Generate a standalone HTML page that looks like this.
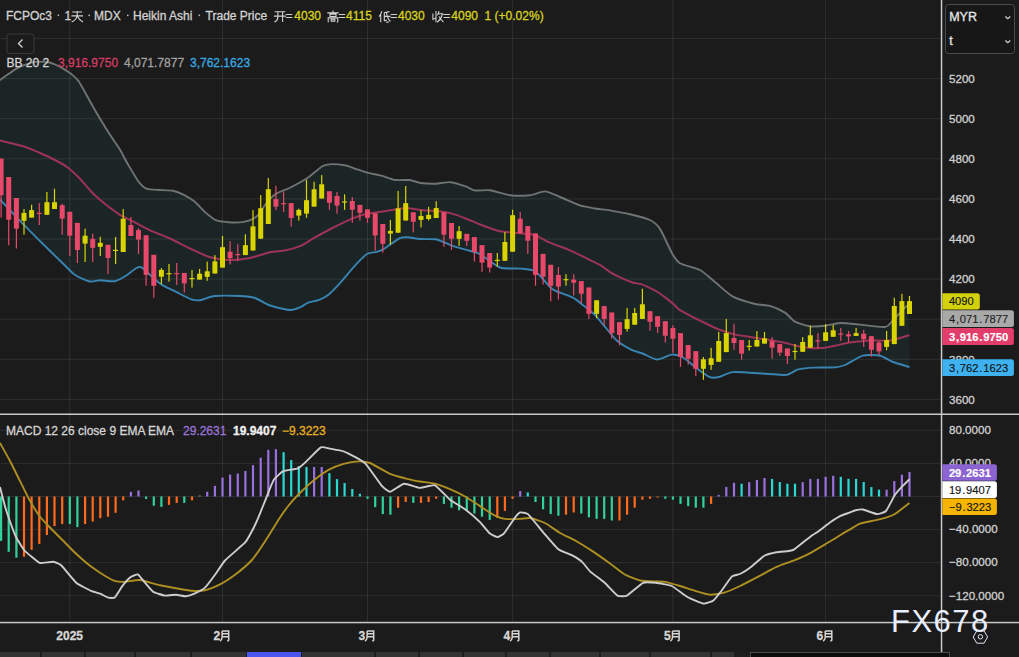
<!DOCTYPE html><html><head><meta charset="utf-8"><style>
html,body{margin:0;padding:0;background:#1b1b1b;width:1019px;height:657px;overflow:hidden}
svg{display:block}
text{font-family:"Liberation Sans",sans-serif}
</style></head><body>
<svg width="1019" height="657" viewBox="0 0 1019 657">
<rect width="1019" height="657" fill="#1b1b1b"/>
<path d="M0.0,80.2 C0.9,79.5 6.1,75.6 8.0,74.3 C9.9,73.0 14.2,69.8 16.0,68.8 C17.8,67.8 21.7,66.0 23.5,65.3 C25.3,64.6 29.6,63.0 31.4,62.6 C33.2,62.2 37.2,61.6 39.2,61.6 C41.2,61.6 46.9,61.9 48.7,62.2 C50.5,62.5 53.4,63.8 55.0,64.5 C56.6,65.2 61.0,67.4 62.8,68.4 C64.6,69.5 68.8,72.0 70.6,73.5 C72.4,75.0 76.5,78.2 78.5,81.0 C80.5,83.8 85.7,93.5 88.0,97.6 C90.3,101.7 96.1,112.1 98.6,116.3 C101.1,120.5 106.7,129.7 109.2,133.6 C111.7,137.5 117.7,145.9 119.9,149.5 C122.1,153.1 125.7,160.5 127.9,164.2 C130.1,167.9 136.3,178.6 138.5,181.5 C140.7,184.4 144.0,187.7 146.5,188.7 C149.0,189.7 156.7,189.8 159.8,190.0 C162.9,190.2 170.4,190.2 173.2,190.8 C176.0,191.4 181.3,193.6 183.8,194.8 C186.3,196.0 192.0,199.5 194.5,201.5 C197.0,203.5 202.6,209.9 205.1,212.1 C207.6,214.3 213.3,218.9 215.8,220.1 C218.3,221.3 223.6,221.7 226.4,222.0 C229.2,222.3 237.4,222.6 240.0,222.4 C242.6,222.2 246.7,221.5 248.8,220.7 C250.9,219.9 255.6,217.5 257.7,215.4 C259.8,213.3 264.4,205.5 266.5,203.0 C268.6,200.5 272.6,195.9 275.3,194.2 C278.0,192.4 285.8,189.9 289.5,188.0 C293.2,186.1 304.0,180.3 307.1,178.3 C310.2,176.3 314.1,172.6 316.0,171.2 C317.9,169.8 321.1,166.7 323.0,165.9 C324.9,165.1 329.2,164.1 331.9,164.1 C334.6,164.1 343.3,165.0 346.0,165.5 C348.7,166.0 352.3,167.8 354.8,168.6 C357.3,169.4 364.1,171.8 367.2,172.6 C370.3,173.4 378.0,174.7 381.3,175.6 C384.6,176.5 392.2,179.5 395.5,180.0 C398.8,180.5 406.7,179.7 409.6,180.0 C412.5,180.3 417.6,182.6 420.7,183.0 C423.8,183.4 432.4,183.8 435.9,183.7 C439.4,183.6 447.5,181.8 451.0,182.2 C454.5,182.5 463.5,185.7 466.3,186.7 C469.1,187.7 472.2,190.1 475.0,190.5 C477.8,190.9 485.9,189.7 490.0,190.2 C494.1,190.7 505.3,194.6 510.0,195.2 C514.7,195.8 525.9,195.6 530.0,195.2 C534.1,194.8 541.5,191.2 545.0,191.4 C548.5,191.6 555.9,195.4 560.0,197.0 C564.1,198.6 575.9,204.1 580.0,205.4 C584.1,206.7 591.5,207.9 595.0,208.5 C598.5,209.1 605.9,209.7 610.0,210.4 C614.1,211.1 625.3,213.1 630.0,214.2 C634.7,215.3 646.5,218.3 650.0,220.0 C653.5,221.7 657.4,225.0 660.0,228.9 C662.6,232.8 669.7,249.2 672.0,253.2 C674.3,257.2 676.7,261.3 680.0,263.3 C683.3,265.3 695.9,267.8 700.0,270.0 C704.1,272.2 711.1,278.9 715.0,282.0 C718.9,285.1 728.3,294.1 733.0,296.7 C737.7,299.3 750.7,302.9 755.0,304.0 C759.3,305.1 766.5,304.9 770.0,305.9 C773.5,306.9 782.1,310.8 785.0,312.6 C787.9,314.4 792.1,320.1 795.0,321.7 C797.9,323.3 806.5,325.8 810.0,326.3 C813.5,326.8 821.5,326.2 825.0,325.8 C828.5,325.4 835.9,323.1 840.0,323.0 C844.1,322.9 854.8,324.1 860.0,324.6 C865.2,325.1 881.1,327.5 885.0,327.0 C888.9,326.5 891.0,322.2 893.0,320.3 C895.0,318.4 900.1,312.6 902.0,310.6 C903.9,308.6 908.6,304.3 909.5,303.5 L909.5,367.0 C907.6,366.4 896.4,363.3 893.0,362.0 C889.6,360.7 883.5,356.4 880.0,355.7 C876.5,355.0 867.1,354.5 863.0,355.6 C858.9,356.7 848.3,363.6 845.0,365.0 C841.7,366.4 838.6,367.1 835.0,367.4 C831.4,367.7 818.5,367.4 814.2,367.6 C809.9,367.8 801.6,368.5 798.3,369.4 C795.0,370.3 790.0,374.4 786.2,374.9 C782.4,375.4 771.7,374.0 765.5,373.7 C759.3,373.4 738.3,371.7 733.0,372.1 C727.7,372.5 722.7,376.2 720.0,376.8 C717.3,377.4 712.9,378.3 710.0,377.2 C707.1,376.1 698.1,369.3 695.0,367.0 C691.9,364.7 685.7,358.9 683.0,357.5 C680.3,356.1 675.0,354.4 672.0,354.6 C669.0,354.8 660.4,359.6 657.0,359.5 C653.6,359.4 645.6,354.6 642.6,353.5 C639.6,352.4 634.6,351.4 631.6,349.9 C628.6,348.4 620.0,343.4 617.0,340.8 C614.0,338.2 608.6,331.0 606.0,328.0 C603.4,325.0 597.6,317.8 595.1,315.2 C592.6,312.6 586.8,308.1 584.2,306.1 C581.6,304.1 576.6,299.7 573.2,297.9 C569.8,296.1 557.7,291.9 555.0,290.6 C552.3,289.3 552.3,289.3 550.0,287.0 C547.7,284.7 538.5,273.4 535.0,271.3 C531.5,269.2 524.1,269.0 520.0,268.6 C515.9,268.2 504.7,269.2 500.0,267.5 C495.3,265.8 483.9,256.3 480.0,254.2 C476.1,252.1 469.7,250.9 466.3,249.9 C462.9,248.9 453.8,246.2 451.1,245.3 C448.4,244.4 445.3,242.7 443.5,242.0 C441.7,241.3 438.7,239.7 436.0,239.3 C433.3,239.0 424.1,239.2 420.7,239.0 C417.3,238.8 409.4,237.3 407.0,237.2 C404.6,237.1 401.9,237.4 400.0,238.2 C398.1,239.0 392.5,243.0 390.4,244.4 C388.3,245.8 383.8,249.0 382.2,249.9 C380.6,250.8 378.5,251.4 376.7,251.9 C374.9,252.4 369.3,252.7 367.1,254.0 C364.9,255.3 359.7,260.6 357.5,262.9 C355.3,265.2 350.1,271.2 347.9,273.8 C345.7,276.4 340.6,282.4 338.4,284.8 C336.2,287.2 331.0,292.6 328.8,294.4 C326.6,296.2 321.6,298.9 319.2,299.9 C316.8,300.9 310.4,301.7 308.2,302.6 C306.0,303.5 302.1,306.5 300.0,307.4 C297.9,308.3 293.5,310.2 290.0,310.0 C286.5,309.8 274.1,306.9 270.0,305.5 C265.9,304.1 258.5,299.1 255.0,298.0 C251.5,296.9 244.7,296.2 240.0,296.0 C235.3,295.8 219.7,295.5 215.0,296.0 C210.3,296.5 202.8,299.8 200.0,300.2 C197.2,300.6 193.9,300.2 191.2,299.3 C188.5,298.4 180.0,293.9 176.6,292.2 C173.2,290.5 164.8,286.6 162.0,284.9 C159.2,283.2 155.3,279.6 153.0,277.6 C150.7,275.6 143.9,268.7 142.0,267.6 C140.1,266.5 138.4,267.0 136.5,268.0 C134.6,269.0 128.0,274.5 125.5,276.0 C123.0,277.5 118.0,280.7 115.0,281.2 C112.0,281.7 102.9,280.3 100.0,280.3 C97.1,280.3 92.9,282.1 90.0,281.5 C87.1,280.9 78.0,277.0 75.0,275.0 C72.0,273.0 67.7,268.1 64.0,264.5 C60.3,260.9 48.0,249.0 43.0,244.0 C38.0,239.0 26.0,227.0 21.0,221.8 C16.0,216.6 2.4,202.1 0.0,199.5 Z" fill="#1d2727" fill-opacity="0.9"/>
<rect x="891" y="289" width="18" height="79" fill="#22302f" fill-opacity="0.12"/>
<rect x="0" y="38.0" width="941" height="1" fill="rgba(255,255,255,0.085)"/>
<rect x="0" y="78.1" width="941" height="1" fill="rgba(255,255,255,0.085)"/>
<rect x="0" y="118.2" width="941" height="1" fill="rgba(255,255,255,0.085)"/>
<rect x="0" y="158.3" width="941" height="1" fill="rgba(255,255,255,0.085)"/>
<rect x="0" y="198.4" width="941" height="1" fill="rgba(255,255,255,0.085)"/>
<rect x="0" y="238.5" width="941" height="1" fill="rgba(255,255,255,0.085)"/>
<rect x="0" y="278.6" width="941" height="1" fill="rgba(255,255,255,0.085)"/>
<rect x="0" y="318.7" width="941" height="1" fill="rgba(255,255,255,0.085)"/>
<rect x="0" y="358.8" width="941" height="1" fill="rgba(255,255,255,0.085)"/>
<rect x="0" y="398.9" width="941" height="1" fill="rgba(255,255,255,0.085)"/>
<rect x="0" y="429.8" width="941" height="1" fill="rgba(255,255,255,0.085)"/>
<rect x="0" y="462.9" width="941" height="1" fill="rgba(255,255,255,0.085)"/>
<rect x="0" y="496.0" width="941" height="1" fill="rgba(255,255,255,0.085)"/>
<rect x="0" y="529.1" width="941" height="1" fill="rgba(255,255,255,0.085)"/>
<rect x="0" y="562.2" width="941" height="1" fill="rgba(255,255,255,0.085)"/>
<rect x="0" y="595.3" width="941" height="1" fill="rgba(255,255,255,0.085)"/>
<rect x="69.3" y="0" width="1" height="622" fill="rgba(255,255,255,0.085)"/>
<rect x="222.0" y="0" width="1" height="622" fill="rgba(255,255,255,0.085)"/>
<rect x="367.0" y="0" width="1" height="622" fill="rgba(255,255,255,0.085)"/>
<rect x="512.1" y="0" width="1" height="622" fill="rgba(255,255,255,0.085)"/>
<rect x="672.4" y="0" width="1" height="622" fill="rgba(255,255,255,0.085)"/>
<rect x="825.1" y="0" width="1" height="622" fill="rgba(255,255,255,0.085)"/>
<path d="M0.0,80.2 C0.9,79.5 6.1,75.6 8.0,74.3 C9.9,73.0 14.2,69.8 16.0,68.8 C17.8,67.8 21.7,66.0 23.5,65.3 C25.3,64.6 29.6,63.0 31.4,62.6 C33.2,62.2 37.2,61.6 39.2,61.6 C41.2,61.6 46.9,61.9 48.7,62.2 C50.5,62.5 53.4,63.8 55.0,64.5 C56.6,65.2 61.0,67.4 62.8,68.4 C64.6,69.5 68.8,72.0 70.6,73.5 C72.4,75.0 76.5,78.2 78.5,81.0 C80.5,83.8 85.7,93.5 88.0,97.6 C90.3,101.7 96.1,112.1 98.6,116.3 C101.1,120.5 106.7,129.7 109.2,133.6 C111.7,137.5 117.7,145.9 119.9,149.5 C122.1,153.1 125.7,160.5 127.9,164.2 C130.1,167.9 136.3,178.6 138.5,181.5 C140.7,184.4 144.0,187.7 146.5,188.7 C149.0,189.7 156.7,189.8 159.8,190.0 C162.9,190.2 170.4,190.2 173.2,190.8 C176.0,191.4 181.3,193.6 183.8,194.8 C186.3,196.0 192.0,199.5 194.5,201.5 C197.0,203.5 202.6,209.9 205.1,212.1 C207.6,214.3 213.3,218.9 215.8,220.1 C218.3,221.3 223.6,221.7 226.4,222.0 C229.2,222.3 237.4,222.6 240.0,222.4 C242.6,222.2 246.7,221.5 248.8,220.7 C250.9,219.9 255.6,217.5 257.7,215.4 C259.8,213.3 264.4,205.5 266.5,203.0 C268.6,200.5 272.6,195.9 275.3,194.2 C278.0,192.4 285.8,189.9 289.5,188.0 C293.2,186.1 304.0,180.3 307.1,178.3 C310.2,176.3 314.1,172.6 316.0,171.2 C317.9,169.8 321.1,166.7 323.0,165.9 C324.9,165.1 329.2,164.1 331.9,164.1 C334.6,164.1 343.3,165.0 346.0,165.5 C348.7,166.0 352.3,167.8 354.8,168.6 C357.3,169.4 364.1,171.8 367.2,172.6 C370.3,173.4 378.0,174.7 381.3,175.6 C384.6,176.5 392.2,179.5 395.5,180.0 C398.8,180.5 406.7,179.7 409.6,180.0 C412.5,180.3 417.6,182.6 420.7,183.0 C423.8,183.4 432.4,183.8 435.9,183.7 C439.4,183.6 447.5,181.8 451.0,182.2 C454.5,182.5 463.5,185.7 466.3,186.7 C469.1,187.7 472.2,190.1 475.0,190.5 C477.8,190.9 485.9,189.7 490.0,190.2 C494.1,190.7 505.3,194.6 510.0,195.2 C514.7,195.8 525.9,195.6 530.0,195.2 C534.1,194.8 541.5,191.2 545.0,191.4 C548.5,191.6 555.9,195.4 560.0,197.0 C564.1,198.6 575.9,204.1 580.0,205.4 C584.1,206.7 591.5,207.9 595.0,208.5 C598.5,209.1 605.9,209.7 610.0,210.4 C614.1,211.1 625.3,213.1 630.0,214.2 C634.7,215.3 646.5,218.3 650.0,220.0 C653.5,221.7 657.4,225.0 660.0,228.9 C662.6,232.8 669.7,249.2 672.0,253.2 C674.3,257.2 676.7,261.3 680.0,263.3 C683.3,265.3 695.9,267.8 700.0,270.0 C704.1,272.2 711.1,278.9 715.0,282.0 C718.9,285.1 728.3,294.1 733.0,296.7 C737.7,299.3 750.7,302.9 755.0,304.0 C759.3,305.1 766.5,304.9 770.0,305.9 C773.5,306.9 782.1,310.8 785.0,312.6 C787.9,314.4 792.1,320.1 795.0,321.7 C797.9,323.3 806.5,325.8 810.0,326.3 C813.5,326.8 821.5,326.2 825.0,325.8 C828.5,325.4 835.9,323.1 840.0,323.0 C844.1,322.9 854.8,324.1 860.0,324.6 C865.2,325.1 881.1,327.5 885.0,327.0 C888.9,326.5 891.0,322.2 893.0,320.3 C895.0,318.4 900.1,312.6 902.0,310.6 C903.9,308.6 908.6,304.3 909.5,303.5" fill="none" stroke="#6f7373" stroke-width="1.9"/>
<path d="M0.0,140.5 C2.8,141.2 19.3,145.0 24.0,146.5 C28.7,148.0 36.6,151.5 40.0,153.0 C43.4,154.5 49.9,157.4 53.0,159.0 C56.1,160.6 63.9,164.7 67.0,167.0 C70.2,169.3 77.0,175.7 80.0,178.8 C83.0,181.9 89.8,190.4 93.0,193.5 C96.2,196.6 103.8,203.0 107.0,205.5 C110.2,208.0 117.0,212.9 120.0,214.8 C123.0,216.7 129.5,219.6 133.0,221.4 C136.5,223.2 145.7,228.3 150.0,230.3 C154.3,232.3 165.3,236.4 170.0,238.5 C174.7,240.6 185.3,246.3 190.0,248.5 C194.7,250.7 205.3,255.9 210.0,257.2 C214.7,258.5 225.3,259.8 230.0,259.9 C234.7,260.0 245.3,258.9 250.0,258.0 C254.7,257.1 265.9,253.2 270.0,252.3 C274.1,251.4 281.5,251.2 285.0,250.5 C288.5,249.8 296.7,247.6 300.0,246.2 C303.3,244.8 310.0,240.3 313.7,238.2 C317.4,236.1 327.0,230.8 331.5,228.5 C336.0,226.2 348.0,220.3 352.0,218.6 C356.0,216.9 363.3,214.7 366.0,214.0 C368.7,213.3 372.2,213.0 375.0,212.6 C377.8,212.2 386.7,210.8 390.2,210.3 C393.7,209.8 401.8,208.0 405.4,208.0 C409.0,208.0 417.1,209.5 420.7,209.9 C424.3,210.3 432.5,210.7 436.0,211.1 C439.5,211.5 447.6,212.5 451.1,213.4 C454.6,214.3 462.9,217.4 466.3,218.7 C469.7,220.0 476.1,223.0 480.0,224.5 C483.9,226.0 495.3,230.3 500.0,231.3 C504.7,232.3 515.9,232.8 520.0,233.2 C524.1,233.6 531.5,234.0 535.0,235.1 C538.5,236.2 545.9,240.9 550.0,242.7 C554.1,244.5 565.3,248.3 570.0,250.3 C574.7,252.3 586.4,258.3 590.0,260.1 C593.6,261.9 598.1,263.9 600.6,265.4 C603.1,266.9 608.8,271.4 611.3,272.9 C613.8,274.4 619.4,277.1 621.9,278.2 C624.4,279.3 630.4,281.8 632.6,282.5 C634.8,283.2 639.2,283.5 641.1,284.1 C643.0,284.7 646.9,286.5 648.6,287.3 C650.3,288.1 654.1,289.9 656.0,291.0 C657.9,292.1 662.5,295.4 664.5,296.9 C666.5,298.4 671.3,302.2 673.1,303.8 C674.9,305.4 677.9,308.8 680.0,310.2 C682.1,311.6 687.7,314.3 690.7,315.9 C693.7,317.5 702.4,321.8 705.9,323.5 C709.4,325.2 717.6,329.0 721.1,330.3 C724.6,331.6 733.3,334.2 736.3,334.9 C739.3,335.6 744.5,336.1 747.2,336.5 C749.9,336.9 756.6,338.0 759.4,338.4 C762.2,338.8 768.7,339.7 771.5,340.2 C774.3,340.7 780.9,342.0 783.7,342.6 C786.5,343.2 793.1,345.1 795.9,345.7 C798.7,346.3 805.3,347.4 808.1,347.7 C810.9,348.0 817.2,348.3 820.3,348.1 C823.4,347.9 831.5,346.4 835.0,345.7 C838.5,345.0 845.9,343.1 850.0,342.5 C854.1,341.9 865.3,340.6 870.0,340.4 C874.7,340.2 885.4,341.2 890.0,340.6 C894.6,340.0 907.2,335.8 909.5,335.2" fill="none" stroke="#9e3358" stroke-width="2"/>
<path d="M0.0,199.5 C2.4,202.1 16.0,216.6 21.0,221.8 C26.0,227.0 38.0,239.0 43.0,244.0 C48.0,249.0 60.3,260.9 64.0,264.5 C67.7,268.1 72.0,273.0 75.0,275.0 C78.0,277.0 87.1,280.9 90.0,281.5 C92.9,282.1 97.1,280.3 100.0,280.3 C102.9,280.3 112.0,281.7 115.0,281.2 C118.0,280.7 123.0,277.5 125.5,276.0 C128.0,274.5 134.6,269.0 136.5,268.0 C138.4,267.0 140.1,266.5 142.0,267.6 C143.9,268.7 150.7,275.6 153.0,277.6 C155.3,279.6 159.2,283.2 162.0,284.9 C164.8,286.6 173.2,290.5 176.6,292.2 C180.0,293.9 188.5,298.4 191.2,299.3 C193.9,300.2 197.2,300.6 200.0,300.2 C202.8,299.8 210.3,296.5 215.0,296.0 C219.7,295.5 235.3,295.8 240.0,296.0 C244.7,296.2 251.5,296.9 255.0,298.0 C258.5,299.1 265.9,304.1 270.0,305.5 C274.1,306.9 286.5,309.8 290.0,310.0 C293.5,310.2 297.9,308.3 300.0,307.4 C302.1,306.5 306.0,303.5 308.2,302.6 C310.4,301.7 316.8,300.9 319.2,299.9 C321.6,298.9 326.6,296.2 328.8,294.4 C331.0,292.6 336.2,287.2 338.4,284.8 C340.6,282.4 345.7,276.4 347.9,273.8 C350.1,271.2 355.3,265.2 357.5,262.9 C359.7,260.6 364.9,255.3 367.1,254.0 C369.3,252.7 374.9,252.4 376.7,251.9 C378.5,251.4 380.6,250.8 382.2,249.9 C383.8,249.0 388.3,245.8 390.4,244.4 C392.5,243.0 398.1,239.0 400.0,238.2 C401.9,237.4 404.6,237.1 407.0,237.2 C409.4,237.3 417.3,238.8 420.7,239.0 C424.1,239.2 433.3,239.0 436.0,239.3 C438.7,239.7 441.7,241.3 443.5,242.0 C445.3,242.7 448.4,244.4 451.1,245.3 C453.8,246.2 462.9,248.9 466.3,249.9 C469.7,250.9 476.1,252.1 480.0,254.2 C483.9,256.3 495.3,265.8 500.0,267.5 C504.7,269.2 515.9,268.2 520.0,268.6 C524.1,269.0 531.5,269.2 535.0,271.3 C538.5,273.4 547.7,284.7 550.0,287.0 C552.3,289.3 552.3,289.3 555.0,290.6 C557.7,291.9 569.8,296.1 573.2,297.9 C576.6,299.7 581.6,304.1 584.2,306.1 C586.8,308.1 592.6,312.6 595.1,315.2 C597.6,317.8 603.4,325.0 606.0,328.0 C608.6,331.0 614.0,338.2 617.0,340.8 C620.0,343.4 628.6,348.4 631.6,349.9 C634.6,351.4 639.6,352.4 642.6,353.5 C645.6,354.6 653.6,359.4 657.0,359.5 C660.4,359.6 669.0,354.8 672.0,354.6 C675.0,354.4 680.3,356.1 683.0,357.5 C685.7,358.9 691.9,364.7 695.0,367.0 C698.1,369.3 707.1,376.1 710.0,377.2 C712.9,378.3 717.3,377.4 720.0,376.8 C722.7,376.2 727.7,372.5 733.0,372.1 C738.3,371.7 759.3,373.4 765.5,373.7 C771.7,374.0 782.4,375.4 786.2,374.9 C790.0,374.4 795.0,370.3 798.3,369.4 C801.6,368.5 809.9,367.8 814.2,367.6 C818.5,367.4 831.4,367.7 835.0,367.4 C838.6,367.1 841.7,366.4 845.0,365.0 C848.3,363.6 858.9,356.7 863.0,355.6 C867.1,354.5 876.5,355.0 880.0,355.7 C883.5,356.4 889.6,360.7 893.0,362.0 C896.4,363.3 907.6,366.4 909.5,367.0" fill="none" stroke="#3884b2" stroke-width="1.9"/>
<rect x="0.5" y="158.6" width="1.2" height="59.0" fill="#e8486a"/>
<rect x="-1.4" y="158.6" width="5" height="36.6" fill="#e8486a"/>
<rect x="8.1" y="177.0" width="1.2" height="68.3" fill="#e8486a"/>
<rect x="6.2" y="177.0" width="5" height="42.7" fill="#e8486a"/>
<rect x="15.8" y="198.0" width="1.2" height="50.5" fill="#e8486a"/>
<rect x="13.9" y="198.0" width="5" height="30.7" fill="#e8486a"/>
<rect x="23.4" y="209.0" width="1.2" height="25.6" fill="#d9d400"/>
<rect x="21.5" y="212.9" width="5" height="7.9" fill="#d9d400"/>
<rect x="31.0" y="204.8" width="1.2" height="12.8" fill="#d9d400"/>
<rect x="29.1" y="210.1" width="5" height="7.5" fill="#d9d400"/>
<rect x="38.7" y="203.0" width="1.2" height="22.0" fill="#e8486a"/>
<rect x="36.8" y="212.8" width="5" height="1.2" fill="#e8486a"/>
<rect x="46.3" y="192.0" width="1.2" height="22.8" fill="#d9d400"/>
<rect x="44.4" y="202.2" width="5" height="12.6" fill="#d9d400"/>
<rect x="53.9" y="188.8" width="1.2" height="20.2" fill="#d9d400"/>
<rect x="52.0" y="202.2" width="5" height="6.8" fill="#d9d400"/>
<rect x="61.6" y="203.7" width="1.2" height="30.9" fill="#e8486a"/>
<rect x="59.7" y="205.2" width="5" height="13.4" fill="#e8486a"/>
<rect x="69.2" y="211.8" width="1.2" height="44.2" fill="#e8486a"/>
<rect x="67.3" y="211.8" width="5" height="23.9" fill="#e8486a"/>
<rect x="76.8" y="222.9" width="1.2" height="40.1" fill="#e8486a"/>
<rect x="74.9" y="222.9" width="5" height="27.1" fill="#e8486a"/>
<rect x="84.5" y="228.7" width="1.2" height="33.3" fill="#d9d400"/>
<rect x="82.6" y="235.7" width="5" height="7.9" fill="#d9d400"/>
<rect x="92.1" y="233.6" width="1.2" height="28.4" fill="#e8486a"/>
<rect x="90.2" y="238.9" width="5" height="8.9" fill="#e8486a"/>
<rect x="99.7" y="236.8" width="1.2" height="19.2" fill="#d9d400"/>
<rect x="97.8" y="242.8" width="5" height="4.0" fill="#d9d400"/>
<rect x="107.4" y="244.8" width="1.2" height="29.2" fill="#e8486a"/>
<rect x="105.5" y="244.8" width="5" height="13.2" fill="#e8486a"/>
<rect x="115.0" y="237.0" width="1.2" height="27.0" fill="#d9d400"/>
<rect x="113.1" y="249.8" width="5" height="1.2" fill="#d9d400"/>
<rect x="122.6" y="209.1" width="1.2" height="42.9" fill="#d9d400"/>
<rect x="120.7" y="218.7" width="5" height="33.3" fill="#d9d400"/>
<rect x="130.3" y="217.0" width="1.2" height="19.0" fill="#e8486a"/>
<rect x="128.4" y="225.0" width="5" height="11.0" fill="#e8486a"/>
<rect x="137.9" y="228.3" width="1.2" height="25.6" fill="#e8486a"/>
<rect x="136.0" y="230.1" width="5" height="9.5" fill="#e8486a"/>
<rect x="145.5" y="235.3" width="1.2" height="50.5" fill="#e8486a"/>
<rect x="143.6" y="235.3" width="5" height="39.6" fill="#e8486a"/>
<rect x="153.2" y="254.8" width="1.2" height="42.9" fill="#e8486a"/>
<rect x="151.3" y="254.8" width="5" height="31.0" fill="#e8486a"/>
<rect x="160.8" y="268.1" width="1.2" height="15.9" fill="#d9d400"/>
<rect x="158.9" y="269.9" width="5" height="6.8" fill="#d9d400"/>
<rect x="168.4" y="263.9" width="1.2" height="17.7" fill="#d9d400"/>
<rect x="166.5" y="273.1" width="5" height="1.2" fill="#d9d400"/>
<rect x="176.1" y="263.0" width="1.2" height="21.9" fill="#e8486a"/>
<rect x="174.2" y="273.1" width="5" height="1.2" fill="#e8486a"/>
<rect x="183.7" y="273.0" width="1.2" height="19.6" fill="#e8486a"/>
<rect x="181.8" y="273.0" width="5" height="10.4" fill="#e8486a"/>
<rect x="191.4" y="270.0" width="1.2" height="17.6" fill="#d9d400"/>
<rect x="189.5" y="278.0" width="5" height="1.2" fill="#d9d400"/>
<rect x="199.0" y="268.9" width="1.2" height="10.7" fill="#d9d400"/>
<rect x="197.1" y="273.7" width="5" height="5.9" fill="#d9d400"/>
<rect x="206.6" y="261.6" width="1.2" height="19.2" fill="#d9d400"/>
<rect x="204.7" y="271.3" width="5" height="5.6" fill="#d9d400"/>
<rect x="214.3" y="255.1" width="1.2" height="18.4" fill="#d9d400"/>
<rect x="212.4" y="261.4" width="5" height="12.1" fill="#d9d400"/>
<rect x="221.9" y="235.9" width="1.2" height="31.7" fill="#d9d400"/>
<rect x="220.0" y="247.2" width="5" height="20.4" fill="#d9d400"/>
<rect x="229.5" y="241.2" width="1.2" height="23.2" fill="#e8486a"/>
<rect x="227.6" y="251.7" width="5" height="6.4" fill="#e8486a"/>
<rect x="237.2" y="244.2" width="1.2" height="16.8" fill="#e8486a"/>
<rect x="235.3" y="254.0" width="5" height="1.2" fill="#e8486a"/>
<rect x="244.8" y="234.3" width="1.2" height="20.8" fill="#d9d400"/>
<rect x="242.9" y="245.2" width="5" height="9.9" fill="#d9d400"/>
<rect x="252.4" y="210.1" width="1.2" height="40.4" fill="#d9d400"/>
<rect x="250.5" y="226.4" width="5" height="24.1" fill="#d9d400"/>
<rect x="260.1" y="195.1" width="1.2" height="43.6" fill="#d9d400"/>
<rect x="258.2" y="208.2" width="5" height="30.5" fill="#d9d400"/>
<rect x="267.7" y="177.9" width="1.2" height="46.1" fill="#d9d400"/>
<rect x="265.8" y="189.2" width="5" height="34.8" fill="#d9d400"/>
<rect x="275.3" y="185.8" width="1.2" height="24.3" fill="#e8486a"/>
<rect x="273.4" y="199.1" width="5" height="7.5" fill="#e8486a"/>
<rect x="283.0" y="191.7" width="1.2" height="20.4" fill="#e8486a"/>
<rect x="281.1" y="203.1" width="5" height="1.2" fill="#e8486a"/>
<rect x="290.6" y="203.1" width="1.2" height="23.6" fill="#e8486a"/>
<rect x="288.7" y="203.1" width="5" height="14.9" fill="#e8486a"/>
<rect x="298.2" y="208.6" width="1.2" height="12.0" fill="#d9d400"/>
<rect x="296.3" y="209.9" width="5" height="5.7" fill="#d9d400"/>
<rect x="305.9" y="179.8" width="1.2" height="38.0" fill="#d9d400"/>
<rect x="304.0" y="200.2" width="5" height="13.4" fill="#d9d400"/>
<rect x="313.5" y="181.8" width="1.2" height="24.8" fill="#d9d400"/>
<rect x="311.6" y="189.3" width="5" height="17.3" fill="#d9d400"/>
<rect x="321.1" y="175.1" width="1.2" height="23.4" fill="#d9d400"/>
<rect x="319.2" y="184.3" width="5" height="14.2" fill="#d9d400"/>
<rect x="328.8" y="191.3" width="1.2" height="18.6" fill="#e8486a"/>
<rect x="326.9" y="191.3" width="5" height="11.4" fill="#e8486a"/>
<rect x="336.4" y="192.2" width="1.2" height="21.4" fill="#e8486a"/>
<rect x="334.5" y="196.0" width="5" height="9.6" fill="#e8486a"/>
<rect x="344.0" y="194.3" width="1.2" height="15.6" fill="#d9d400"/>
<rect x="342.1" y="201.4" width="5" height="1.2" fill="#d9d400"/>
<rect x="351.7" y="197.2" width="1.2" height="25.6" fill="#e8486a"/>
<rect x="349.8" y="201.0" width="5" height="8.7" fill="#e8486a"/>
<rect x="359.3" y="204.9" width="1.2" height="15.7" fill="#e8486a"/>
<rect x="357.4" y="204.9" width="5" height="7.9" fill="#e8486a"/>
<rect x="366.9" y="209.4" width="1.2" height="13.4" fill="#e8486a"/>
<rect x="365.0" y="209.4" width="5" height="8.4" fill="#e8486a"/>
<rect x="374.6" y="213.3" width="1.2" height="37.3" fill="#e8486a"/>
<rect x="372.7" y="213.3" width="5" height="22.2" fill="#e8486a"/>
<rect x="382.2" y="224.0" width="1.2" height="28.7" fill="#e8486a"/>
<rect x="380.3" y="224.0" width="5" height="19.8" fill="#e8486a"/>
<rect x="389.8" y="219.9" width="1.2" height="24.7" fill="#d9d400"/>
<rect x="387.9" y="230.9" width="5" height="2.7" fill="#d9d400"/>
<rect x="397.5" y="191.0" width="1.2" height="41.7" fill="#d9d400"/>
<rect x="395.6" y="208.4" width="5" height="24.3" fill="#d9d400"/>
<rect x="405.1" y="186.0" width="1.2" height="34.5" fill="#d9d400"/>
<rect x="403.2" y="203.2" width="5" height="17.3" fill="#d9d400"/>
<rect x="412.7" y="212.3" width="1.2" height="20.1" fill="#e8486a"/>
<rect x="410.8" y="212.3" width="5" height="9.5" fill="#e8486a"/>
<rect x="420.4" y="210.3" width="1.2" height="17.2" fill="#d9d400"/>
<rect x="418.5" y="216.0" width="5" height="3.9" fill="#d9d400"/>
<rect x="428.0" y="206.8" width="1.2" height="13.7" fill="#d9d400"/>
<rect x="426.1" y="214.9" width="5" height="4.1" fill="#d9d400"/>
<rect x="435.6" y="201.2" width="1.2" height="16.8" fill="#d9d400"/>
<rect x="433.7" y="208.0" width="5" height="10.0" fill="#d9d400"/>
<rect x="443.3" y="212.3" width="1.2" height="34.6" fill="#e8486a"/>
<rect x="441.4" y="212.3" width="5" height="22.4" fill="#e8486a"/>
<rect x="450.9" y="223.0" width="1.2" height="26.9" fill="#e8486a"/>
<rect x="449.0" y="223.0" width="5" height="15.8" fill="#e8486a"/>
<rect x="458.5" y="226.0" width="1.2" height="19.8" fill="#d9d400"/>
<rect x="456.6" y="231.2" width="5" height="7.6" fill="#d9d400"/>
<rect x="466.2" y="233.9" width="1.2" height="12.1" fill="#e8486a"/>
<rect x="464.3" y="233.9" width="5" height="6.9" fill="#e8486a"/>
<rect x="473.8" y="237.1" width="1.2" height="24.4" fill="#e8486a"/>
<rect x="471.9" y="237.1" width="5" height="14.9" fill="#e8486a"/>
<rect x="481.4" y="245.1" width="1.2" height="26.7" fill="#e8486a"/>
<rect x="479.5" y="245.1" width="5" height="17.5" fill="#e8486a"/>
<rect x="489.1" y="253.0" width="1.2" height="19.5" fill="#e8486a"/>
<rect x="487.2" y="253.0" width="5" height="14.6" fill="#e8486a"/>
<rect x="496.7" y="253.0" width="1.2" height="13.6" fill="#d9d400"/>
<rect x="494.8" y="259.8" width="5" height="1.2" fill="#d9d400"/>
<rect x="504.3" y="232.0" width="1.2" height="28.8" fill="#d9d400"/>
<rect x="502.4" y="242.0" width="5" height="18.8" fill="#d9d400"/>
<rect x="512.0" y="209.7" width="1.2" height="42.0" fill="#d9d400"/>
<rect x="510.1" y="215.2" width="5" height="36.5" fill="#d9d400"/>
<rect x="519.6" y="211.9" width="1.2" height="21.5" fill="#e8486a"/>
<rect x="517.7" y="218.8" width="5" height="14.6" fill="#e8486a"/>
<rect x="527.2" y="226.1" width="1.2" height="27.8" fill="#e8486a"/>
<rect x="525.3" y="226.1" width="5" height="14.6" fill="#e8486a"/>
<rect x="534.9" y="233.4" width="1.2" height="52.4" fill="#e8486a"/>
<rect x="533.0" y="233.4" width="5" height="41.5" fill="#e8486a"/>
<rect x="542.5" y="253.9" width="1.2" height="30.6" fill="#e8486a"/>
<rect x="540.6" y="253.9" width="5" height="22.8" fill="#e8486a"/>
<rect x="550.1" y="264.8" width="1.2" height="36.5" fill="#e8486a"/>
<rect x="548.2" y="264.8" width="5" height="21.0" fill="#e8486a"/>
<rect x="557.8" y="267.2" width="1.2" height="32.4" fill="#e8486a"/>
<rect x="555.9" y="275.0" width="5" height="11.6" fill="#e8486a"/>
<rect x="565.4" y="274.2" width="1.2" height="11.5" fill="#d9d400"/>
<rect x="563.5" y="279.1" width="5" height="1.2" fill="#d9d400"/>
<rect x="573.1" y="274.2" width="1.2" height="21.3" fill="#e8486a"/>
<rect x="571.2" y="279.6" width="5" height="3.1" fill="#e8486a"/>
<rect x="580.7" y="281.1" width="1.2" height="22.3" fill="#e8486a"/>
<rect x="578.8" y="281.1" width="5" height="12.6" fill="#e8486a"/>
<rect x="588.3" y="287.5" width="1.2" height="31.4" fill="#e8486a"/>
<rect x="586.4" y="287.5" width="5" height="26.3" fill="#e8486a"/>
<rect x="596.0" y="300.3" width="1.2" height="17.7" fill="#d9d400"/>
<rect x="594.1" y="300.3" width="5" height="13.5" fill="#d9d400"/>
<rect x="603.6" y="306.1" width="1.2" height="19.2" fill="#e8486a"/>
<rect x="601.7" y="306.1" width="5" height="12.8" fill="#e8486a"/>
<rect x="611.2" y="312.5" width="1.2" height="26.1" fill="#e8486a"/>
<rect x="609.3" y="312.5" width="5" height="20.6" fill="#e8486a"/>
<rect x="618.9" y="322.2" width="1.2" height="23.1" fill="#e8486a"/>
<rect x="617.0" y="322.2" width="5" height="12.7" fill="#e8486a"/>
<rect x="626.5" y="307.9" width="1.2" height="23.7" fill="#d9d400"/>
<rect x="624.6" y="319.2" width="5" height="9.7" fill="#d9d400"/>
<rect x="634.1" y="307.9" width="1.2" height="16.8" fill="#d9d400"/>
<rect x="632.2" y="313.0" width="5" height="11.7" fill="#d9d400"/>
<rect x="641.8" y="288.8" width="1.2" height="30.1" fill="#d9d400"/>
<rect x="639.9" y="304.3" width="5" height="14.6" fill="#d9d400"/>
<rect x="649.4" y="311.2" width="1.2" height="19.5" fill="#e8486a"/>
<rect x="647.5" y="311.2" width="5" height="10.6" fill="#e8486a"/>
<rect x="657.0" y="316.2" width="1.2" height="16.7" fill="#e8486a"/>
<rect x="655.1" y="316.2" width="5" height="10.6" fill="#e8486a"/>
<rect x="664.7" y="321.2" width="1.2" height="21.3" fill="#e8486a"/>
<rect x="662.8" y="321.2" width="5" height="14.5" fill="#e8486a"/>
<rect x="672.3" y="325.3" width="1.2" height="27.4" fill="#e8486a"/>
<rect x="670.4" y="328.0" width="5" height="10.7" fill="#e8486a"/>
<rect x="679.9" y="333.1" width="1.2" height="33.8" fill="#e8486a"/>
<rect x="678.0" y="333.1" width="5" height="23.9" fill="#e8486a"/>
<rect x="687.6" y="345.1" width="1.2" height="19.5" fill="#e8486a"/>
<rect x="685.7" y="345.1" width="5" height="13.7" fill="#e8486a"/>
<rect x="695.2" y="351.2" width="1.2" height="24.8" fill="#e8486a"/>
<rect x="693.3" y="351.2" width="5" height="17.6" fill="#e8486a"/>
<rect x="702.8" y="357.0" width="1.2" height="22.8" fill="#d9d400"/>
<rect x="700.9" y="359.3" width="5" height="9.5" fill="#d9d400"/>
<rect x="710.5" y="347.8" width="1.2" height="22.1" fill="#d9d400"/>
<rect x="708.6" y="358.2" width="5" height="6.7" fill="#d9d400"/>
<rect x="718.1" y="331.9" width="1.2" height="29.9" fill="#d9d400"/>
<rect x="716.2" y="341.0" width="5" height="20.8" fill="#d9d400"/>
<rect x="725.7" y="318.9" width="1.2" height="33.2" fill="#d9d400"/>
<rect x="723.8" y="333.1" width="5" height="19.0" fill="#d9d400"/>
<rect x="733.4" y="323.8" width="1.2" height="25.9" fill="#e8486a"/>
<rect x="731.5" y="338.0" width="5" height="5.0" fill="#e8486a"/>
<rect x="741.0" y="340.0" width="1.2" height="19.7" fill="#e8486a"/>
<rect x="739.1" y="340.0" width="5" height="13.7" fill="#e8486a"/>
<rect x="748.6" y="340.0" width="1.2" height="10.5" fill="#d9d400"/>
<rect x="746.7" y="345.8" width="5" height="1.2" fill="#d9d400"/>
<rect x="756.3" y="331.1" width="1.2" height="15.4" fill="#d9d400"/>
<rect x="754.4" y="340.0" width="5" height="6.5" fill="#d9d400"/>
<rect x="763.9" y="331.9" width="1.2" height="11.7" fill="#d9d400"/>
<rect x="762.0" y="338.4" width="5" height="5.2" fill="#d9d400"/>
<rect x="771.5" y="337.1" width="1.2" height="21.6" fill="#e8486a"/>
<rect x="769.6" y="341.2" width="5" height="6.5" fill="#e8486a"/>
<rect x="779.2" y="344.1" width="1.2" height="11.9" fill="#e8486a"/>
<rect x="777.3" y="344.1" width="5" height="8.5" fill="#e8486a"/>
<rect x="786.8" y="348.5" width="1.2" height="15.4" fill="#e8486a"/>
<rect x="784.9" y="348.5" width="5" height="7.5" fill="#e8486a"/>
<rect x="794.4" y="344.1" width="1.2" height="15.6" fill="#d9d400"/>
<rect x="792.5" y="350.9" width="5" height="1.2" fill="#d9d400"/>
<rect x="802.1" y="337.1" width="1.2" height="14.7" fill="#d9d400"/>
<rect x="800.2" y="342.0" width="5" height="9.8" fill="#d9d400"/>
<rect x="809.7" y="325.8" width="1.2" height="21.9" fill="#d9d400"/>
<rect x="807.8" y="335.3" width="5" height="12.4" fill="#d9d400"/>
<rect x="817.3" y="333.1" width="1.2" height="15.6" fill="#e8486a"/>
<rect x="815.4" y="340.3" width="5" height="1.2" fill="#e8486a"/>
<rect x="825.0" y="324.1" width="1.2" height="16.8" fill="#d9d400"/>
<rect x="823.1" y="332.3" width="5" height="8.6" fill="#d9d400"/>
<rect x="832.6" y="325.0" width="1.2" height="11.8" fill="#d9d400"/>
<rect x="830.7" y="330.3" width="5" height="6.5" fill="#d9d400"/>
<rect x="840.2" y="327.9" width="1.2" height="13.1" fill="#e8486a"/>
<rect x="838.3" y="333.5" width="5" height="1.2" fill="#e8486a"/>
<rect x="847.9" y="331.0" width="1.2" height="11.0" fill="#e8486a"/>
<rect x="846.0" y="334.3" width="5" height="2.1" fill="#e8486a"/>
<rect x="855.5" y="327.9" width="1.2" height="8.0" fill="#d9d400"/>
<rect x="853.6" y="333.1" width="5" height="2.8" fill="#d9d400"/>
<rect x="863.1" y="329.8" width="1.2" height="17.1" fill="#e8486a"/>
<rect x="861.2" y="333.7" width="5" height="5.5" fill="#e8486a"/>
<rect x="870.8" y="336.2" width="1.2" height="20.4" fill="#e8486a"/>
<rect x="868.9" y="336.2" width="5" height="13.6" fill="#e8486a"/>
<rect x="878.4" y="341.3" width="1.2" height="13.7" fill="#e8486a"/>
<rect x="876.5" y="342.5" width="5" height="8.9" fill="#e8486a"/>
<rect x="886.0" y="331.0" width="1.2" height="19.2" fill="#d9d400"/>
<rect x="884.1" y="340.1" width="5" height="6.8" fill="#d9d400"/>
<rect x="893.7" y="297.8" width="1.2" height="46.3" fill="#d9d400"/>
<rect x="891.8" y="306.0" width="5" height="38.1" fill="#d9d400"/>
<rect x="901.3" y="293.8" width="1.2" height="32.0" fill="#d9d400"/>
<rect x="899.4" y="301.1" width="5" height="24.7" fill="#d9d400"/>
<rect x="908.9" y="296.0" width="1.2" height="18.0" fill="#d9d400"/>
<rect x="907.0" y="301.1" width="5" height="12.9" fill="#d9d400"/>
<rect x="0.0" y="496.5" width="2.2" height="44.4" fill="#2fd39b"/>
<rect x="7.6" y="496.5" width="2.2" height="55.3" fill="#2fd39b"/>
<rect x="15.3" y="496.5" width="2.2" height="61.2" fill="#2fd39b"/>
<rect x="22.9" y="496.5" width="2.2" height="60.2" fill="#ff6a1c"/>
<rect x="30.5" y="496.5" width="2.2" height="53.3" fill="#ff6a1c"/>
<rect x="38.2" y="496.5" width="2.2" height="47.4" fill="#ff6a1c"/>
<rect x="45.8" y="496.5" width="2.2" height="38.5" fill="#ff6a1c"/>
<rect x="53.4" y="496.5" width="2.2" height="29.6" fill="#ff6a1c"/>
<rect x="61.1" y="496.5" width="2.2" height="27.6" fill="#ff6a1c"/>
<rect x="68.7" y="496.5" width="2.2" height="27.6" fill="#2fd39b"/>
<rect x="76.3" y="496.5" width="2.2" height="30.6" fill="#2fd39b"/>
<rect x="84.0" y="496.5" width="2.2" height="27.6" fill="#ff6a1c"/>
<rect x="91.6" y="496.5" width="2.2" height="25.0" fill="#ff6a1c"/>
<rect x="99.2" y="496.5" width="2.2" height="21.7" fill="#ff6a1c"/>
<rect x="106.9" y="496.5" width="2.2" height="20.3" fill="#ff6a1c"/>
<rect x="114.5" y="496.5" width="2.2" height="16.3" fill="#ff6a1c"/>
<rect x="122.1" y="496.5" width="2.2" height="3.8" fill="#ff6a1c"/>
<rect x="129.8" y="491.8" width="2.2" height="4.7" fill="#9a6fe0"/>
<rect x="137.4" y="490.5" width="2.2" height="6.0" fill="#9a6fe0"/>
<rect x="145.0" y="496.5" width="2.2" height="2.5" fill="#2fd39b"/>
<rect x="152.7" y="496.5" width="2.2" height="9.2" fill="#2fd39b"/>
<rect x="160.3" y="496.5" width="2.2" height="10.4" fill="#2fd39b"/>
<rect x="167.9" y="496.5" width="2.2" height="8.4" fill="#ff6a1c"/>
<rect x="175.6" y="496.5" width="2.2" height="6.4" fill="#ff6a1c"/>
<rect x="183.2" y="496.5" width="2.2" height="6.4" fill="#2fd39b"/>
<rect x="190.9" y="496.5" width="2.2" height="3.8" fill="#ff6a1c"/>
<rect x="198.5" y="495.5" width="2.2" height="1.0" fill="#888888"/>
<rect x="206.1" y="491.8" width="2.2" height="4.7" fill="#9a6fe0"/>
<rect x="213.8" y="485.9" width="2.2" height="10.6" fill="#9a6fe0"/>
<rect x="221.4" y="477.6" width="2.2" height="18.9" fill="#9a6fe0"/>
<rect x="229.0" y="474.6" width="2.2" height="21.9" fill="#9a6fe0"/>
<rect x="236.7" y="473.6" width="2.2" height="22.9" fill="#9a6fe0"/>
<rect x="244.3" y="471.0" width="2.2" height="25.5" fill="#9a6fe0"/>
<rect x="251.9" y="465.2" width="2.2" height="31.3" fill="#9a6fe0"/>
<rect x="259.6" y="457.7" width="2.2" height="38.8" fill="#9a6fe0"/>
<rect x="267.2" y="449.8" width="2.2" height="46.7" fill="#9a6fe0"/>
<rect x="274.8" y="449.2" width="2.2" height="47.3" fill="#9a6fe0"/>
<rect x="282.5" y="452.2" width="2.2" height="44.3" fill="#2ad8d2"/>
<rect x="290.1" y="460.1" width="2.2" height="36.4" fill="#2ad8d2"/>
<rect x="297.7" y="466.0" width="2.2" height="30.5" fill="#2ad8d2"/>
<rect x="305.4" y="467.0" width="2.2" height="29.5" fill="#2ad8d2"/>
<rect x="313.0" y="467.0" width="2.2" height="29.5" fill="#9a6fe0"/>
<rect x="320.6" y="467.0" width="2.2" height="29.5" fill="#9a6fe0"/>
<rect x="328.3" y="473.1" width="2.2" height="23.4" fill="#2ad8d2"/>
<rect x="335.9" y="479.1" width="2.2" height="17.4" fill="#2ad8d2"/>
<rect x="343.5" y="483.0" width="2.2" height="13.5" fill="#2ad8d2"/>
<rect x="351.2" y="489.0" width="2.2" height="7.5" fill="#2ad8d2"/>
<rect x="358.8" y="493.7" width="2.2" height="2.8" fill="#2ad8d2"/>
<rect x="366.4" y="496.5" width="2.2" height="2.3" fill="#2fd39b"/>
<rect x="374.1" y="496.5" width="2.2" height="10.6" fill="#2fd39b"/>
<rect x="381.7" y="496.5" width="2.2" height="17.6" fill="#2fd39b"/>
<rect x="389.3" y="496.5" width="2.2" height="18.2" fill="#2fd39b"/>
<rect x="397.0" y="496.5" width="2.2" height="11.2" fill="#ff6a1c"/>
<rect x="404.6" y="496.5" width="2.2" height="5.5" fill="#ff6a1c"/>
<rect x="412.2" y="496.5" width="2.2" height="6.4" fill="#2fd39b"/>
<rect x="419.9" y="496.5" width="2.2" height="6.4" fill="#ff6a1c"/>
<rect x="427.5" y="496.5" width="2.2" height="5.5" fill="#ff6a1c"/>
<rect x="435.1" y="496.5" width="2.2" height="2.3" fill="#ff6a1c"/>
<rect x="442.8" y="496.5" width="2.2" height="7.4" fill="#2fd39b"/>
<rect x="450.4" y="496.5" width="2.2" height="11.2" fill="#2fd39b"/>
<rect x="458.0" y="496.5" width="2.2" height="13.8" fill="#2fd39b"/>
<rect x="465.7" y="496.5" width="2.2" height="14.4" fill="#2fd39b"/>
<rect x="473.3" y="496.5" width="2.2" height="17.0" fill="#2fd39b"/>
<rect x="480.9" y="496.5" width="2.2" height="20.2" fill="#2fd39b"/>
<rect x="488.6" y="496.5" width="2.2" height="23.4" fill="#2fd39b"/>
<rect x="496.2" y="496.5" width="2.2" height="21.4" fill="#ff6a1c"/>
<rect x="503.8" y="496.5" width="2.2" height="14.4" fill="#ff6a1c"/>
<rect x="511.5" y="496.5" width="2.2" height="2.3" fill="#ff6a1c"/>
<rect x="519.1" y="491.1" width="2.2" height="5.4" fill="#9a6fe0"/>
<rect x="526.7" y="492.4" width="2.2" height="4.1" fill="#2ad8d2"/>
<rect x="534.4" y="496.5" width="2.2" height="5.5" fill="#2fd39b"/>
<rect x="542.0" y="496.5" width="2.2" height="12.8" fill="#2fd39b"/>
<rect x="549.6" y="496.5" width="2.2" height="17.6" fill="#2fd39b"/>
<rect x="557.3" y="496.5" width="2.2" height="19.2" fill="#2fd39b"/>
<rect x="564.9" y="496.5" width="2.2" height="18.2" fill="#ff6a1c"/>
<rect x="572.6" y="496.5" width="2.2" height="16.0" fill="#ff6a1c"/>
<rect x="580.2" y="496.5" width="2.2" height="17.0" fill="#2fd39b"/>
<rect x="587.8" y="496.5" width="2.2" height="20.8" fill="#2fd39b"/>
<rect x="595.5" y="496.5" width="2.2" height="22.4" fill="#2fd39b"/>
<rect x="603.1" y="496.5" width="2.2" height="22.4" fill="#2fd39b"/>
<rect x="610.7" y="496.5" width="2.2" height="24.0" fill="#2fd39b"/>
<rect x="618.4" y="496.5" width="2.2" height="24.0" fill="#ff6a1c"/>
<rect x="626.0" y="496.5" width="2.2" height="18.2" fill="#ff6a1c"/>
<rect x="633.6" y="496.5" width="2.2" height="11.2" fill="#ff6a1c"/>
<rect x="641.3" y="496.5" width="2.2" height="3.2" fill="#ff6a1c"/>
<rect x="648.9" y="496.5" width="2.2" height="2.3" fill="#ff6a1c"/>
<rect x="656.5" y="496.5" width="2.2" height="1.0" fill="#ff6a1c"/>
<rect x="664.2" y="496.5" width="2.2" height="2.3" fill="#2fd39b"/>
<rect x="671.8" y="496.5" width="2.2" height="3.2" fill="#2fd39b"/>
<rect x="679.4" y="496.5" width="2.2" height="7.4" fill="#2fd39b"/>
<rect x="687.1" y="496.5" width="2.2" height="9.6" fill="#2fd39b"/>
<rect x="694.7" y="496.5" width="2.2" height="11.2" fill="#2fd39b"/>
<rect x="702.3" y="496.5" width="2.2" height="11.2" fill="#2fd39b"/>
<rect x="710.0" y="496.5" width="2.2" height="7.4" fill="#ff6a1c"/>
<rect x="717.6" y="494.9" width="2.2" height="1.6" fill="#9a6fe0"/>
<rect x="725.2" y="486.9" width="2.2" height="9.6" fill="#9a6fe0"/>
<rect x="732.9" y="482.8" width="2.2" height="13.7" fill="#9a6fe0"/>
<rect x="740.5" y="483.7" width="2.2" height="12.8" fill="#2ad8d2"/>
<rect x="748.1" y="482.1" width="2.2" height="14.4" fill="#9a6fe0"/>
<rect x="755.8" y="479.9" width="2.2" height="16.6" fill="#9a6fe0"/>
<rect x="763.4" y="478.0" width="2.2" height="18.5" fill="#9a6fe0"/>
<rect x="771.0" y="478.9" width="2.2" height="17.6" fill="#2ad8d2"/>
<rect x="778.7" y="482.1" width="2.2" height="14.4" fill="#2ad8d2"/>
<rect x="786.3" y="483.7" width="2.2" height="12.8" fill="#2ad8d2"/>
<rect x="793.9" y="483.7" width="2.2" height="12.8" fill="#2ad8d2"/>
<rect x="801.6" y="482.1" width="2.2" height="14.4" fill="#9a6fe0"/>
<rect x="809.2" y="478.9" width="2.2" height="17.6" fill="#9a6fe0"/>
<rect x="816.8" y="478.9" width="2.2" height="17.6" fill="#9a6fe0"/>
<rect x="824.5" y="476.8" width="2.2" height="19.7" fill="#9a6fe0"/>
<rect x="832.1" y="475.8" width="2.2" height="20.7" fill="#9a6fe0"/>
<rect x="839.7" y="476.8" width="2.2" height="19.7" fill="#2ad8d2"/>
<rect x="847.4" y="478.8" width="2.2" height="17.7" fill="#2ad8d2"/>
<rect x="855.0" y="478.9" width="2.2" height="17.6" fill="#2ad8d2"/>
<rect x="862.6" y="482.0" width="2.2" height="14.5" fill="#2ad8d2"/>
<rect x="870.3" y="487.1" width="2.2" height="9.4" fill="#2ad8d2"/>
<rect x="877.9" y="489.7" width="2.2" height="6.8" fill="#2ad8d2"/>
<rect x="885.5" y="489.7" width="2.2" height="6.8" fill="#9a6fe0"/>
<rect x="893.2" y="481.1" width="2.2" height="15.4" fill="#9a6fe0"/>
<rect x="900.8" y="474.7" width="2.2" height="21.8" fill="#9a6fe0"/>
<rect x="908.4" y="472.0" width="2.2" height="24.5" fill="#9a6fe0"/>
<path d="M0.0,443.0 C1.0,444.8 7.9,457.0 9.9,460.8 C11.9,464.6 17.8,476.7 19.8,480.6 C21.8,484.6 27.7,496.7 29.7,500.3 C31.7,503.9 37.6,513.5 39.6,516.2 C41.6,518.9 47.2,524.6 49.5,527.0 C51.8,529.4 59.8,537.4 62.4,540.0 C65.0,542.6 72.4,550.3 75.3,553.0 C78.2,555.7 88.7,564.8 91.8,567.1 C94.9,569.5 103.6,575.1 106.0,576.5 C108.4,577.9 113.5,580.7 115.4,581.2 C117.3,581.7 122.3,581.9 124.8,581.8 C127.3,581.7 136.6,579.6 140.1,580.0 C143.6,580.4 156.4,584.5 160.0,585.3 C163.6,586.1 172.8,587.8 176.0,588.3 C179.2,588.8 189.1,590.6 192.0,590.8 C194.9,591.0 202.2,590.8 205.0,590.2 C207.8,589.6 217.0,585.9 220.0,584.4 C223.0,582.9 231.8,577.2 235.0,574.8 C238.2,572.4 249.2,562.9 251.9,560.0 C254.6,557.1 260.2,548.6 262.0,546.0 C263.8,543.4 267.9,536.9 269.7,534.0 C271.5,531.1 278.1,520.4 280.0,517.5 C281.9,514.6 287.1,507.4 289.0,505.0 C290.9,502.6 296.9,496.0 299.4,493.5 C301.9,491.0 311.2,482.4 314.2,480.0 C317.1,477.6 326.0,471.3 328.9,469.7 C331.8,468.1 340.7,464.7 343.6,463.9 C346.5,463.1 355.7,461.5 358.3,461.4 C360.9,461.3 366.8,461.7 370.0,463.0 C373.2,464.3 387.2,472.7 390.7,474.2 C394.2,475.7 402.1,477.6 405.0,478.3 C407.9,479.0 417.0,481.0 420.0,481.5 C423.0,482.0 432.0,482.9 435.0,483.7 C438.0,484.5 447.0,487.9 450.0,489.2 C453.0,490.5 462.0,494.8 465.0,496.5 C468.0,498.2 477.0,504.2 480.0,506.1 C483.0,508.0 492.5,514.4 495.0,515.7 C497.5,517.0 502.5,518.6 505.0,518.9 C507.5,519.2 517.5,519.0 520.0,518.9 C522.5,518.8 527.5,517.6 530.0,518.0 C532.5,518.4 542.0,521.5 545.0,523.0 C548.0,524.5 556.9,531.2 560.0,533.0 C563.1,534.8 572.8,539.2 576.0,541.0 C579.2,542.8 588.8,548.8 592.0,550.9 C595.2,553.0 604.8,559.7 608.0,562.0 C611.2,564.3 620.8,572.1 624.0,574.0 C627.2,575.9 636.9,579.8 640.0,580.5 C643.1,581.2 652.5,581.4 655.0,581.5 C657.5,581.6 662.5,581.4 665.0,581.9 C667.5,582.4 677.0,585.1 680.0,586.0 C683.0,586.9 692.0,589.9 695.0,590.8 C698.0,591.7 707.0,594.5 710.0,594.7 C713.0,594.9 722.0,593.3 725.0,592.4 C728.0,591.5 736.2,587.8 740.0,586.0 C743.8,584.2 759.4,576.0 763.0,574.1 C766.6,572.2 773.3,568.2 776.5,566.8 C779.7,565.4 791.3,561.5 794.7,560.1 C798.1,558.7 807.6,554.4 810.6,552.8 C813.6,551.2 822.5,545.9 825.2,544.3 C827.9,542.7 834.9,538.5 837.3,537.0 C839.7,535.5 847.2,531.0 849.5,529.7 C851.8,528.4 857.5,524.5 860.0,523.6 C862.5,522.7 872.4,521.0 875.0,520.4 C877.6,519.8 884.0,518.2 886.0,517.6 C888.0,517.0 892.6,515.5 895.0,514.0 C897.4,512.5 908.0,504.1 909.5,503.0" fill="none" stroke="#ad8f22" stroke-width="1.9" stroke-linejoin="round"/>
<path d="M0.0,487.0 C0.4,488.6 5.3,507.7 6.4,511.0 C7.5,514.3 14.8,534.4 16.0,537.0 C17.2,539.6 23.4,549.2 24.5,550.5 C25.6,551.8 31.0,556.2 32.0,557.0 C33.0,557.8 38.6,562.7 40.0,563.0 C41.4,563.3 52.1,561.6 53.5,561.8 C54.9,562.0 59.7,563.9 61.2,565.3 C62.7,566.7 74.5,581.3 76.5,583.0 C78.5,584.7 90.2,590.5 91.8,591.2 C93.4,591.9 98.9,593.2 100.0,593.6 C101.1,594.0 107.3,597.4 108.3,597.7 C109.3,598.0 113.9,598.3 114.8,597.5 C115.7,596.7 121.4,587.3 122.5,585.9 C123.6,584.5 129.7,577.9 130.7,577.1 C131.7,576.3 136.9,574.1 137.8,574.4 C138.7,574.7 142.7,580.0 143.7,581.2 C144.7,582.4 151.7,590.8 153.1,591.8 C154.5,592.8 163.5,595.4 165.0,595.6 C166.5,595.8 174.6,594.7 176.0,594.7 C177.4,594.7 184.7,596.4 186.0,596.3 C187.3,596.2 193.7,594.0 195.0,593.4 C196.3,592.8 203.7,588.8 205.0,587.6 C206.3,586.4 213.7,576.6 215.0,574.8 C216.3,573.0 223.0,562.7 225.0,560.5 C227.0,558.3 243.6,544.2 245.4,542.2 C247.2,540.2 251.1,532.6 252.0,531.0 C252.9,529.4 257.6,519.3 258.3,517.6 C259.0,515.9 262.3,507.7 263.0,506.0 C263.7,504.3 268.0,493.5 268.7,491.7 C269.4,489.9 273.0,480.9 274.0,479.5 C275.0,478.1 281.6,471.9 283.2,471.2 C284.8,470.5 296.5,468.9 298.0,468.3 C299.5,467.7 303.8,463.8 305.3,462.4 C306.8,461.0 319.2,448.3 320.8,447.4 C322.4,446.5 327.4,448.1 328.9,448.4 C330.4,448.7 341.8,450.7 343.6,451.3 C345.4,451.9 353.9,456.4 355.4,457.2 C356.9,458.0 363.9,462.0 365.7,463.9 C367.5,465.8 380.3,484.0 381.9,485.9 C383.5,487.8 388.5,491.9 390.0,491.8 C391.5,491.7 402.0,484.0 404.0,483.7 C406.0,483.4 417.9,487.8 420.0,487.9 C422.1,488.0 433.0,484.5 435.0,485.3 C437.0,486.1 448.0,498.1 450.0,499.7 C452.0,501.3 463.0,507.8 465.0,509.3 C467.0,510.8 478.4,520.5 480.0,522.1 C481.6,523.7 488.4,532.3 489.6,533.3 C490.8,534.3 496.6,537.1 497.6,537.1 C498.6,537.1 502.8,534.6 504.0,533.3 C505.2,532.0 514.1,518.7 515.2,517.3 C516.3,515.9 519.1,512.7 520.0,512.5 C520.9,512.3 526.4,512.7 528.0,514.1 C529.6,515.5 542.0,531.0 544.0,533.3 C546.0,535.6 556.4,547.8 558.3,549.3 C560.2,550.8 571.1,554.8 572.7,555.7 C574.3,556.6 581.1,561.0 582.3,562.1 C583.5,563.2 588.8,570.2 590.3,571.6 C591.8,573.0 602.9,581.2 604.7,582.8 C606.5,584.4 616.0,594.7 617.5,595.6 C619.0,596.5 625.3,596.5 627.0,595.6 C628.7,594.7 641.1,583.7 643.0,582.8 C644.9,581.9 653.9,582.6 655.8,582.8 C657.7,583.0 669.7,585.0 671.8,586.0 C673.9,587.0 685.7,596.0 687.8,597.2 C689.9,598.4 702.1,603.4 703.8,603.6 C705.5,603.8 712.2,601.3 713.4,600.4 C714.6,599.5 720.8,591.6 722.0,590.0 C723.2,588.4 730.8,577.5 732.0,576.4 C733.2,575.3 738.8,574.6 740.0,574.0 C741.2,573.4 748.1,569.2 749.7,568.0 C751.3,566.8 762.5,556.9 764.3,555.8 C766.1,554.7 774.9,552.5 776.5,552.2 C778.1,551.9 787.5,551.2 788.7,551.0 C789.9,550.8 793.2,550.1 794.7,549.1 C796.2,548.1 809.0,537.6 810.6,536.4 C812.2,535.2 817.6,532.0 819.0,531.0 C820.4,530.0 829.5,522.8 831.0,521.8 C832.5,520.8 839.8,516.3 841.0,515.7 C842.2,515.1 848.5,513.0 849.5,512.6 C850.5,512.2 854.7,510.4 855.6,510.2 C856.5,510.0 861.6,509.2 863.0,509.5 C864.4,509.8 875.5,514.0 877.0,514.1 C878.5,514.2 884.8,512.3 886.0,511.0 C887.2,509.7 893.9,496.4 895.0,494.8 C896.1,493.2 901.0,487.6 902.0,486.6 C903.0,485.6 909.0,479.8 909.5,479.3" fill="none" stroke="#cdcdcd" stroke-width="1.9" stroke-linejoin="round"/>
<rect x="0" y="413.5" width="1019" height="1.5" fill="#c9c9c9"/>
<rect x="0" y="621.8" width="1019" height="1.5" fill="#c9c9c9"/>
<rect x="940.8" y="0" width="1.5" height="652" fill="#c9c9c9"/>
<text x="6.0" y="19.8" font-size="12" font-weight="normal" fill="#d2d2d2" text-anchor="start" stroke="#d2d2d2" stroke-width="0.30" >FCPOc3</text>
<rect x="57.6" y="14.6" width="1.5" height="1.5" fill="#bdbdbd"/>
<text x="64.6" y="19.8" font-size="12" font-weight="normal" fill="#d2d2d2" text-anchor="start" stroke="#d2d2d2" stroke-width="0.30" >1</text>
<path transform="translate(71.2,11.1) scale(1.000)" d="M1,0.9H11M0.2,4.8H11.8M6,0V4.8Q5,9 0.5,11M6.3,5.5Q8,9 11.8,11" fill="none" stroke="#d2d2d2" stroke-width="1.10"/>
<rect x="88.5" y="14.6" width="1.5" height="1.5" fill="#bdbdbd"/>
<text x="94.0" y="19.8" font-size="12" font-weight="normal" fill="#d2d2d2" text-anchor="start" stroke="#d2d2d2" stroke-width="0.30" >MDX</text>
<rect x="127.0" y="14.6" width="1.5" height="1.5" fill="#bdbdbd"/>
<text x="133.0" y="19.8" font-size="12" font-weight="normal" fill="#d2d2d2" text-anchor="start" stroke="#d2d2d2" stroke-width="0.30" >Heikin Ashi</text>
<rect x="198.6" y="14.6" width="1.5" height="1.5" fill="#bdbdbd"/>
<text x="205.6" y="19.8" font-size="12" font-weight="normal" fill="#d2d2d2" text-anchor="start" stroke="#d2d2d2" stroke-width="0.30" >Trade Price</text>
<path transform="translate(273.9,11.1) scale(1.000)" d="M0.8,0.6H11.4M0,5H12M4,0.6V6Q3.8,9.5 0.6,11M8.7,0.6V11" fill="none" stroke="#d2d2d2" stroke-width="1.10"/>
<text x="285.6" y="19.8" font-size="12" font-weight="normal" fill="#d2d2d2" text-anchor="start" stroke="#d2d2d2" stroke-width="0.30" >=</text>
<text x="294.3" y="19.8" font-size="12" font-weight="normal" fill="#d8d21e" text-anchor="start" stroke="#d8d21e" stroke-width="0.30" >4030</text>
<path transform="translate(327.0,11.1) scale(1.000)" d="M6,-0.6V1.2M0.3,1.8H11.7M3,3H9V5.4H3ZM1.2,11.2V6.8H10.8V10.6Q10.8,11.1 9.8,11M4.2,8.2H7.8V10H4.2Z" fill="none" stroke="#d2d2d2" stroke-width="1.10"/>
<text x="338.6" y="19.8" font-size="12" font-weight="normal" fill="#d2d2d2" text-anchor="start" stroke="#d2d2d2" stroke-width="0.30" >=</text>
<text x="346.0" y="19.8" font-size="12" font-weight="normal" fill="#d8d21e" text-anchor="start" stroke="#d8d21e" stroke-width="0.30" >4115</text>
<path transform="translate(378.7,11.1) scale(1.000)" d="M3.2,0Q2.3,3 0.3,5.5M2,3.5V11.2M5.2,1.6L10.8,0.5M5.6,1.6V9.8M5.6,5.3H11.8M7.8,1.4Q8.3,7 11.8,10.5M5.6,9.8L8.2,8.8M7.5,11H10" fill="none" stroke="#d2d2d2" stroke-width="1.10"/>
<text x="390.3" y="19.8" font-size="12" font-weight="normal" fill="#d2d2d2" text-anchor="start" stroke="#d2d2d2" stroke-width="0.30" >=</text>
<text x="398.0" y="19.8" font-size="12" font-weight="normal" fill="#d8d21e" text-anchor="start" stroke="#d8d21e" stroke-width="0.30" >4030</text>
<path transform="translate(431.7,11.1) scale(1.000)" d="M4.3,0V11.2M1.2,2.5V8.3L4.3,7M7.3,0Q6.8,2.5 5.8,4.2M6.6,2.7H11.8M10.8,2.7Q9.5,8 5.5,11.2M7.3,5.5Q9,9 11.8,11" fill="none" stroke="#d2d2d2" stroke-width="1.10"/>
<text x="443.3" y="19.8" font-size="12" font-weight="normal" fill="#d2d2d2" text-anchor="start" stroke="#d2d2d2" stroke-width="0.30" >=</text>
<text x="451.3" y="19.8" font-size="12" font-weight="normal" fill="#d8d21e" text-anchor="start" stroke="#d8d21e" stroke-width="0.30" >4090</text>
<text x="484.6" y="19.8" font-size="12" font-weight="normal" fill="#d8d21e" text-anchor="start" stroke="#d8d21e" stroke-width="0.30" >1 (+0.02%)</text>
<rect x="7" y="34" width="27" height="19.5" rx="2.5" fill="#1b1b1b" stroke="#3a3a3a" stroke-width="1"/>
<path d="M22.5,39.5 L18.5,43.5 L22.5,47.5" fill="none" stroke="#d0d0d0" stroke-width="1.4"/>
<text x="6.5" y="66.9" font-size="12" font-weight="normal" fill="#d4d4d4" text-anchor="start" stroke="#d4d4d4" stroke-width="0.30" >BB 20 2</text>
<text x="58.0" y="66.9" font-size="12" font-weight="normal" fill="#d43c64" text-anchor="start" stroke="#d43c64" stroke-width="0.30" >3,916.9750</text>
<text x="124.0" y="66.9" font-size="12" font-weight="normal" fill="#a0a0a0" text-anchor="start" stroke="#a0a0a0" stroke-width="0.30" >4,071.7877</text>
<text x="190.0" y="66.9" font-size="12" font-weight="normal" fill="#3aa8e0" text-anchor="start" stroke="#3aa8e0" stroke-width="0.30" >3,762.1623</text>
<text x="6.0" y="434.8" font-size="12" font-weight="normal" fill="#d4d4d4" text-anchor="start" stroke="#d4d4d4" stroke-width="0.30" >MACD 12 26 close 9 EMA EMA</text>
<text x="183.0" y="434.8" font-size="12" font-weight="normal" fill="#9a72d8" text-anchor="start" stroke="#9a72d8" stroke-width="0.30" >29.2631</text>
<text x="233.0" y="434.8" font-size="12" font-weight="bold" fill="#f0f0f0" text-anchor="start" stroke="#f0f0f0" stroke-width="0.30" >19.9407</text>
<text x="282.0" y="434.8" font-size="12" font-weight="normal" fill="#e6b020" text-anchor="start" stroke="#e6b020" stroke-width="0.30" >−9.3223</text>
<text x="949.0" y="82.8" font-size="11.6" font-weight="normal" fill="#d0d0d0" text-anchor="start" stroke="#d0d0d0" stroke-width="0.30" >5200</text>
<text x="949.0" y="122.9" font-size="11.6" font-weight="normal" fill="#d0d0d0" text-anchor="start" stroke="#d0d0d0" stroke-width="0.30" >5000</text>
<text x="949.0" y="163.0" font-size="11.6" font-weight="normal" fill="#d0d0d0" text-anchor="start" stroke="#d0d0d0" stroke-width="0.30" >4800</text>
<text x="949.0" y="203.1" font-size="11.6" font-weight="normal" fill="#d0d0d0" text-anchor="start" stroke="#d0d0d0" stroke-width="0.30" >4600</text>
<text x="949.0" y="243.2" font-size="11.6" font-weight="normal" fill="#d0d0d0" text-anchor="start" stroke="#d0d0d0" stroke-width="0.30" >4400</text>
<text x="949.0" y="283.3" font-size="11.6" font-weight="normal" fill="#d0d0d0" text-anchor="start" stroke="#d0d0d0" stroke-width="0.30" >4200</text>
<text x="949.0" y="323.4" font-size="11.6" font-weight="normal" fill="#d0d0d0" text-anchor="start" stroke="#d0d0d0" stroke-width="0.30" >4000</text>
<text x="949.0" y="363.5" font-size="11.6" font-weight="normal" fill="#d0d0d0" text-anchor="start" stroke="#d0d0d0" stroke-width="0.30" >3800</text>
<text x="949.0" y="403.6" font-size="11.6" font-weight="normal" fill="#d0d0d0" text-anchor="start" stroke="#d0d0d0" stroke-width="0.30" >3600</text>
<text x="949.0" y="434.0" font-size="11.6" font-weight="normal" fill="#d0d0d0" text-anchor="start" stroke="#d0d0d0" stroke-width="0.30" >80.0000</text>
<text x="949.0" y="467.1" font-size="11.6" font-weight="normal" fill="#d0d0d0" text-anchor="start" stroke="#d0d0d0" stroke-width="0.30" >40.0000</text>
<text x="949.0" y="533.3" font-size="11.6" font-weight="normal" fill="#d0d0d0" text-anchor="start" stroke="#d0d0d0" stroke-width="0.30" >−40.0000</text>
<text x="949.0" y="566.4" font-size="11.6" font-weight="normal" fill="#d0d0d0" text-anchor="start" stroke="#d0d0d0" stroke-width="0.30" >−80.0000</text>
<text x="949.0" y="599.5" font-size="11.6" font-weight="normal" fill="#d0d0d0" text-anchor="start" stroke="#d0d0d0" stroke-width="0.30" >−120.0000</text>
<path d="M942.3,293.2 H977.3 Q979.8,293.2 979.8,295.7 V306.9 Q979.8,309.4 977.3,309.4 H942.3 Z" fill="#d3d10c"/>
<text x="948.9" y="305.3" font-size="11.2" font-weight="normal" fill="#141414" text-anchor="start" stroke="#141414" stroke-width="0.15" >4090</text>
<path d="M942.3,310.3 H1011.4 Q1013.9,310.3 1013.9,312.8 V324.4 Q1013.9,326.9 1011.4,326.9 H942.3 Z" fill="#a9a9a9"/>
<text x="948.9" y="322.6" font-size="11.2" font-weight="normal" fill="#1e1e1e" text-anchor="start" stroke="#1e1e1e" stroke-width="0.15" >4<tspan dx="0.8">,</tspan><tspan dx="0.8">0</tspan>71<tspan dx="0.8">.</tspan><tspan dx="0.8">7</tspan>877</text>
<path d="M942.3,328.0 H1011.4 Q1013.9,328.0 1013.9,330.5 V342.5 Q1013.9,345.0 1011.4,345.0 H942.3 Z" fill="#e23d6b"/>
<text x="948.9" y="340.5" font-size="11.2" font-weight="bold" fill="#ffffff" text-anchor="start" stroke="#ffffff" stroke-width="0.15" >3<tspan dx="0.8">,</tspan><tspan dx="0.8">9</tspan>16<tspan dx="0.8">.</tspan><tspan dx="0.8">9</tspan>750</text>
<path d="M942.3,359.3 H1011.4 Q1013.9,359.3 1013.9,361.8 V373.5 Q1013.9,376.0 1011.4,376.0 H942.3 Z" fill="#3eb2f0"/>
<text x="948.9" y="371.6" font-size="11.2" font-weight="normal" fill="#141414" text-anchor="start" stroke="#141414" stroke-width="0.15" >3<tspan dx="0.8">,</tspan><tspan dx="0.8">7</tspan>62<tspan dx="0.8">.</tspan><tspan dx="0.8">1</tspan>623</text>
<path d="M942.3,464.3 H994.4 Q996.9,464.3 996.9,466.8 V478.3 Q996.9,480.8 994.4,480.8 H942.3 Z" fill="#8c64d2"/>
<text x="948.9" y="476.6" font-size="11.2" font-weight="bold" fill="#ffffff" text-anchor="start" stroke="#ffffff" stroke-width="0.15" >29<tspan dx="0.8">.</tspan><tspan dx="0.8">2</tspan>631</text>
<path d="M942.3,481.2 H994.4 Q996.9,481.2 996.9,483.7 V495.4 Q996.9,497.9 994.4,497.9 H942.3 Z" fill="#ffffff"/>
<text x="948.9" y="493.5" font-size="11.2" font-weight="normal" fill="#141414" text-anchor="start" stroke="#141414" stroke-width="0.15" >19<tspan dx="0.8">.</tspan><tspan dx="0.8">9</tspan>407</text>
<path d="M942.3,498.6 H994.4 Q996.9,498.6 996.9,501.1 V512.5 Q996.9,515.0 994.4,515.0 H942.3 Z" fill="#f5b400"/>
<text x="948.9" y="510.8" font-size="11.2" font-weight="normal" fill="#141414" text-anchor="start" stroke="#141414" stroke-width="0.15" >−9<tspan dx="0.8">.</tspan><tspan dx="0.8">3</tspan>223</text>
<rect x="945.5" y="4.5" width="69" height="49" rx="3" fill="#171717" stroke="#4a4a4a" stroke-width="1"/>
<text x="949.2" y="21.0" font-size="12.5" font-weight="normal" fill="#e6e6e6" text-anchor="start" stroke="#e6e6e6" stroke-width="0.30" >MYR</text>
<text x="949.2" y="44.7" font-size="12.5" font-weight="normal" fill="#e6e6e6" text-anchor="start" stroke="#e6e6e6" stroke-width="0.30" >t</text>
<path d="M1005.3,16.5 L1007.8,18.8 L1010.3,16.5" fill="none" stroke="#d0d0d0" stroke-width="1.2"/>
<path d="M1005.3,40.5 L1007.8,42.8 L1010.3,40.5" fill="none" stroke="#d0d0d0" stroke-width="1.2"/>
<text x="69.7" y="640.1" font-size="12" font-weight="bold" fill="#d6d6d6" text-anchor="middle" stroke="#d6d6d6" stroke-width="0.30" >2025</text>
<text x="213.5" y="640.1" font-size="12" font-weight="bold" fill="#d6d6d6" text-anchor="start" stroke="#d6d6d6" stroke-width="0.30" >2</text>
<path transform="translate(219.7,630.0) scale(1.000)" d="M2.4,1V7.5Q2.2,10 0.3,11M2.4,0.9H9V10Q9,11 7.5,10.8M2.4,3.8H9M2.4,6.7H9" fill="none" stroke="#d6d6d6" stroke-width="1.50"/>
<text x="358.5" y="640.1" font-size="12" font-weight="bold" fill="#d6d6d6" text-anchor="start" stroke="#d6d6d6" stroke-width="0.30" >3</text>
<path transform="translate(364.7,630.0) scale(1.000)" d="M2.4,1V7.5Q2.2,10 0.3,11M2.4,0.9H9V10Q9,11 7.5,10.8M2.4,3.8H9M2.4,6.7H9" fill="none" stroke="#d6d6d6" stroke-width="1.50"/>
<text x="503.6" y="640.1" font-size="12" font-weight="bold" fill="#d6d6d6" text-anchor="start" stroke="#d6d6d6" stroke-width="0.30" >4</text>
<path transform="translate(509.8,630.0) scale(1.000)" d="M2.4,1V7.5Q2.2,10 0.3,11M2.4,0.9H9V10Q9,11 7.5,10.8M2.4,3.8H9M2.4,6.7H9" fill="none" stroke="#d6d6d6" stroke-width="1.50"/>
<text x="663.9" y="640.1" font-size="12" font-weight="bold" fill="#d6d6d6" text-anchor="start" stroke="#d6d6d6" stroke-width="0.30" >5</text>
<path transform="translate(670.1,630.0) scale(1.000)" d="M2.4,1V7.5Q2.2,10 0.3,11M2.4,0.9H9V10Q9,11 7.5,10.8M2.4,3.8H9M2.4,6.7H9" fill="none" stroke="#d6d6d6" stroke-width="1.50"/>
<text x="816.6" y="640.1" font-size="12" font-weight="bold" fill="#d6d6d6" text-anchor="start" stroke="#d6d6d6" stroke-width="0.30" >6</text>
<path transform="translate(822.8,630.0) scale(1.000)" d="M2.4,1V7.5Q2.2,10 0.3,11M2.4,0.9H9V10Q9,11 7.5,10.8M2.4,3.8H9M2.4,6.7H9" fill="none" stroke="#d6d6d6" stroke-width="1.50"/>
<rect x="0" y="652" width="941" height="5" fill="#1e1e1e"/>
<rect x="0" y="652" width="40" height="5" fill="#333333"/>
<rect x="42" y="652" width="42" height="5" fill="#333333"/>
<rect x="86" y="652" width="48" height="5" fill="#333333"/>
<rect x="136" y="652" width="54" height="5" fill="#333333"/>
<rect x="192" y="652" width="54" height="5" fill="#333333"/>
<rect x="302" y="652" width="72" height="5" fill="#333333"/>
<rect x="376" y="652" width="42" height="5" fill="#333333"/>
<rect x="420" y="652" width="42" height="5" fill="#333333"/>
<rect x="464" y="652" width="41" height="5" fill="#333333"/>
<rect x="507" y="652" width="42" height="5" fill="#333333"/>
<rect x="551" y="652" width="48" height="5" fill="#333333"/>
<rect x="601" y="652" width="48" height="5" fill="#333333"/>
<rect x="651" y="652" width="59" height="5" fill="#333333"/>
<rect x="712" y="652" width="22" height="5" fill="#333333"/>
<rect x="247" y="652" width="54" height="5" fill="#4a55f0"/>
<rect x="750.5" y="652.5" width="199" height="6" fill="#0d0d0d" stroke="#4a4a4a" stroke-width="1"/>
<text x="891.0" y="631.6" font-size="31" font-weight="normal" fill="#e8eeff" text-anchor="start" letter-spacing="1.5">FX678</text>
<path d="M976.8,630.8 L984.0,630.8 L987.6,637 L984.0,643.2 L976.8,643.2 L973.2,637 Z" fill="none" stroke="#dde4f0" stroke-width="1"/>
<circle cx="980.4" cy="636.8" r="2.2" fill="none" stroke="#dde4f0" stroke-width="1"/>
</svg></body></html>
